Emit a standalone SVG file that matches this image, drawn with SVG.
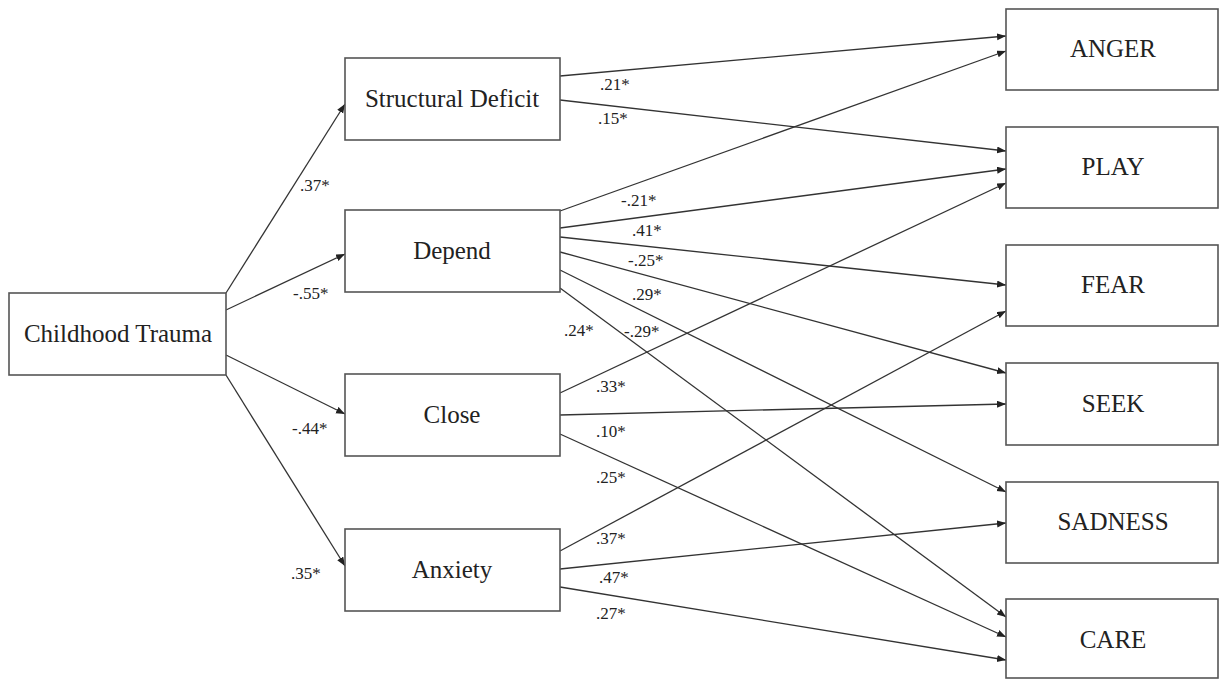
<svg xmlns="http://www.w3.org/2000/svg" width="1220" height="679" viewBox="0 0 1220 679">
<style>
.box{fill:#fff;stroke:#555;stroke-width:1.6}
.nt{font-size:25px;fill:#222;text-anchor:middle}
.lb{font-size:17px;fill:#222}
.e{stroke:#333;stroke-width:1.3;fill:none;marker-end:url(#ah)}
</style>
<defs>
<marker id="ah" markerUnits="userSpaceOnUse" markerWidth="10" markerHeight="8" refX="9" refY="3.5" orient="auto">
<path d="M0,0 L9,3.5 L0,7 z" fill="#222"/>
</marker>
</defs>
<rect width="1220" height="679" fill="#fff"/>
<g id="connectors">
<line class="e" x1="226" y1="293" x2="345" y2="104"/>
<line class="e" x1="226" y1="310" x2="345" y2="254"/>
<line class="e" x1="226" y1="355" x2="345" y2="414"/>
<line class="e" x1="226" y1="375" x2="345" y2="566"/>
<line class="e" x1="560" y1="76" x2="1006" y2="36"/>
<line class="e" x1="560" y1="100" x2="1006" y2="151"/>
<line class="e" x1="560" y1="211" x2="1006" y2="51"/>
<line class="e" x1="560" y1="228" x2="1006" y2="169"/>
<line class="e" x1="560" y1="237" x2="1006" y2="285"/>
<line class="e" x1="560" y1="252" x2="1006" y2="373"/>
<line class="e" x1="560" y1="270" x2="1006" y2="492"/>
<line class="e" x1="560" y1="288" x2="1006" y2="617"/>
<line class="e" x1="560" y1="393" x2="1006" y2="183"/>
<line class="e" x1="560" y1="415" x2="1006" y2="404"/>
<line class="e" x1="560" y1="434" x2="1006" y2="637"/>
<line class="e" x1="560" y1="551" x2="1006" y2="311"/>
<line class="e" x1="560" y1="569" x2="1006" y2="523"/>
<line class="e" x1="560" y1="587" x2="1006" y2="660"/>
</g>
<g id="labels" font-family="'Liberation Serif', 'DejaVu Serif', serif">
<text class="lb" x="300" y="191">.37*</text>
<text class="lb" x="293" y="299">-.55*</text>
<text class="lb" x="292" y="434">-.44*</text>
<text class="lb" x="291" y="579">.35*</text>
<text class="lb" x="600" y="90">.21*</text>
<text class="lb" x="598" y="124">.15*</text>
<text class="lb" x="621" y="206">-.21*</text>
<text class="lb" x="632" y="236">.41*</text>
<text class="lb" x="628" y="266">-.25*</text>
<text class="lb" x="632" y="300">.29*</text>
<text class="lb" x="564" y="336">.24*</text>
<text class="lb" x="624" y="337">-.29*</text>
<text class="lb" x="596" y="392">.33*</text>
<text class="lb" x="596" y="437">.10*</text>
<text class="lb" x="596" y="483">.25*</text>
<text class="lb" x="596" y="544">.37*</text>
<text class="lb" x="599" y="583">.47*</text>
<text class="lb" x="596" y="619">.27*</text>
</g>
<g font-family="'Liberation Serif', 'DejaVu Serif', serif">
<g id="childhood-trauma"><rect class="box" x="9" y="293" width="217" height="82"/><text class="nt" x="118" y="342">Childhood Trauma</text></g>
<g id="structural-deficit"><rect class="box" x="345" y="58" width="215" height="82"/><text class="nt" x="452" y="107">Structural Deficit</text></g>
<g id="depend"><rect class="box" x="345" y="210" width="215" height="82"/><text class="nt" x="452" y="259">Depend</text></g>
<g id="close"><rect class="box" x="345" y="374" width="215" height="82"/><text class="nt" x="452" y="423">Close</text></g>
<g id="anxiety"><rect class="box" x="345" y="529" width="215" height="82"/><text class="nt" x="452" y="578">Anxiety</text></g>
<g id="anger"><rect class="box" x="1006" y="9" width="212" height="81"/><text class="nt" x="1113" y="57">ANGER</text></g>
<g id="play"><rect class="box" x="1006" y="127" width="212" height="81"/><text class="nt" x="1113" y="175">PLAY</text></g>
<g id="fear"><rect class="box" x="1006" y="245" width="212" height="81"/><text class="nt" x="1113" y="293">FEAR</text></g>
<g id="seek"><rect class="box" x="1006" y="363" width="212" height="82"/><text class="nt" x="1113" y="412">SEEK</text></g>
<g id="sadness"><rect class="box" x="1006" y="482" width="212" height="81"/><text class="nt" x="1113" y="530">SADNESS</text></g>
<g id="care"><rect class="box" x="1006" y="599" width="212" height="79"/><text class="nt" x="1113" y="648">CARE</text></g>
</g>
</svg>
